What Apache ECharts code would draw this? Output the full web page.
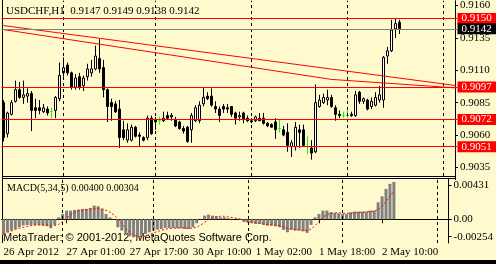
<!DOCTYPE html>
<html><head><meta charset="utf-8">
<script src="https://cdn.jsdelivr.net/npm/echarts@6/dist/echarts.min.js"></script>
<style>html,body{margin:0;padding:0;background:#FFFACD;}#c{width:496px;height:264px;}</style>
</head><body><div id="c"></div>
<script>
// ---- data (USDCHF H1, bars 26 Apr 2012 09:00 .. 2 May 2012 13:00) ----
const open = [0.9085,0.9061,0.9076,0.9086,0.9095,0.9089,0.9090,0.9092,0.9081,0.9081,
0.9078,0.9080,0.9078,0.9079,0.9088,0.9108,0.9114,0.9108,0.9097,0.9105,
0.9098,0.9105,0.9108,0.9111,0.9119,0.9112,0.9095,0.9085,0.9084,0.9080,
0.9064,0.9056,0.9056,0.9066,0.9060,0.9058,0.9058,0.9073,0.9070,0.9071,
0.9071,0.9075,0.9075,0.9072,0.9070,0.9065,0.9066,0.9064,0.9071,0.9071,
0.9084,0.9090,0.9090,0.9082,0.9080,0.9082,0.9081,0.9082,0.9077,0.9074,
0.9077,0.9073,0.9071,0.9071,0.9073,0.9073,0.9069,0.9068,0.9070,0.9065,
0.9064,0.9062,0.9051,0.9051,0.9064,0.9064,0.9051,0.9050,0.9047,0.9082,
0.9085,0.9087,0.9089,0.9081,0.9076,0.9075,0.9075,0.9076,0.9075,0.9093,
0.9086,0.9087,0.9082,0.9083,0.9087,0.9087,0.9121,0.9125,0.9142,0.9147];
const high = [0.9087,0.9078,0.9087,0.9102,0.9101,0.9102,0.9096,0.9094,0.9088,0.9087,
0.9084,0.9082,0.9081,0.9090,0.9116,0.9120,0.9116,0.9109,0.9107,0.9108,
0.9106,0.9115,0.9118,0.9129,0.9134,0.9118,0.9096,0.9088,0.9086,0.9087,
0.9071,0.9069,0.9068,0.9067,0.9062,0.9059,0.9075,0.9075,0.9074,0.9074,
0.9078,0.9078,0.9077,0.9074,0.9071,0.9067,0.9067,0.9077,0.9083,0.9086,
0.9097,0.9093,0.9096,0.9086,0.9082,0.9084,0.9084,0.9082,0.9078,0.9078,
0.9078,0.9075,0.9073,0.9075,0.9077,0.9077,0.9070,0.9069,0.9073,0.9072,
0.9067,0.9069,0.9056,0.9070,0.9068,0.9068,0.9059,0.9056,0.9099,0.9091,
0.9092,0.9095,0.9091,0.9083,0.9079,0.9078,0.9079,0.9078,0.9094,0.9094,
0.9089,0.9088,0.9089,0.9093,0.9098,0.9121,0.9128,0.9149,0.9150,0.9149];
const low = [0.9055,0.9058,0.9075,0.9085,0.9088,0.9084,0.9085,0.9063,0.9073,0.9076,
0.9077,0.9075,0.9073,0.9073,0.9086,0.9105,0.9106,0.9095,0.9095,0.9095,
0.9094,0.9102,0.9105,0.9110,0.9108,0.9089,0.9070,0.9071,0.9077,0.9050,
0.9056,0.9054,0.9055,0.9058,0.9051,0.9055,0.9056,0.9060,0.9064,0.9068,
0.9070,0.9072,0.9071,0.9066,0.9064,0.9061,0.9054,0.9054,0.9070,0.9069,
0.9082,0.9087,0.9082,0.9077,0.9070,0.9077,0.9077,0.9074,0.9068,0.9071,
0.9069,0.9070,0.9069,0.9070,0.9071,0.9068,0.9066,0.9066,0.9057,0.9062,
0.9059,0.9047,0.9043,0.9048,0.9050,0.9051,0.9045,0.9041,0.9046,0.9081,
0.9084,0.9083,0.9081,0.9071,0.9073,0.9073,0.9073,0.9074,0.9074,0.9084,
0.9084,0.9079,0.9080,0.9082,0.9085,0.9081,0.9115,0.9124,0.9135,0.9138];
const close = [0.9058,0.9077,0.9085,0.9095,0.9089,0.9091,0.9092,0.9079,0.9079,0.9079,
0.9081,0.9077,0.9078,0.9089,0.9106,0.9112,0.9108,0.9097,0.9104,0.9097,
0.9104,0.9111,0.9111,0.9121,0.9111,0.9095,0.9082,0.9082,0.9078,0.9058,
0.9058,0.9064,0.9066,0.9059,0.9059,0.9056,0.9073,0.9061,0.9072,0.9071,
0.9073,0.9073,0.9074,0.9067,0.9065,0.9063,0.9055,0.9075,0.9081,0.9083,
0.9089,0.9088,0.9083,0.9080,0.9075,0.9080,0.9080,0.9076,0.9073,0.9075,
0.9072,0.9071,0.9070,0.9074,0.9071,0.9069,0.9067,0.9066,0.9064,0.9065,
0.9060,0.9052,0.9054,0.9066,0.9062,0.9052,0.9051,0.9046,0.9085,0.9087,
0.9089,0.9089,0.9082,0.9076,0.9075,0.9075,0.9075,0.9075,0.9091,0.9086,
0.9088,0.9080,0.9086,0.9089,0.9091,0.9120,0.9125,0.9141,0.9146,0.9142];
const macdHist = [-0.00168,-0.00139,-0.00121,-0.00104,-0.00086,-0.00068,-0.00061,-0.00061,-0.00061,-0.00061,
-0.00068,-0.00075,-0.00096,-0.00061,0.00021,0.00057,0.00093,0.00093,0.00100,0.00104,
0.00111,0.00111,0.00121,0.00146,0.00139,0.00111,0.00057,0.00021,0.00004,-0.00086,
-0.00121,-0.00168,-0.00182,-0.00193,-0.00193,-0.00175,-0.00157,-0.00139,-0.00121,-0.00111,
-0.00104,-0.00093,-0.00093,-0.00093,-0.00096,-0.00096,-0.00104,-0.00104,-0.00086,-0.00043,
0.00004,0.00039,0.00050,0.00039,0.00032,0.00021,0.00021,0.00011,0.00004,0.00000,
-0.00007,-0.00030,-0.00039,-0.00043,-0.00050,-0.00050,-0.00061,-0.00068,-0.00068,-0.00075,
-0.00086,-0.00114,-0.00139,-0.00111,-0.00121,-0.00121,-0.00129,-0.00146,-0.00061,0.00021,
0.00057,0.00093,0.00093,0.00075,0.00068,0.00064,0.00057,0.00057,0.00075,0.00082,
0.00082,0.00082,0.00082,0.00093,0.00093,0.00182,0.00246,0.00325,0.00379,0.00400];
const macdSignal = [-0.00157,-0.00139,-0.00125,-0.00111,-0.00096,-0.00086,-0.00075,-0.00068,-0.00064,-0.00061,
-0.00061,-0.00061,-0.00068,-0.00068,-0.00054,-0.00025,0.00011,0.00046,0.00075,0.00089,
0.00096,0.00104,0.00107,0.00111,0.00114,0.00111,0.00096,0.00075,0.00046,0.00004,
-0.00043,-0.00096,-0.00139,-0.00168,-0.00182,-0.00186,-0.00179,-0.00164,-0.00146,-0.00132,
-0.00118,-0.00107,-0.00100,-0.00096,-0.00093,-0.00093,-0.00093,-0.00096,-0.00096,-0.00086,
-0.00061,-0.00032,-0.00004,0.00018,0.00029,0.00032,0.00032,0.00025,0.00018,0.00011,
0.00004,-0.00011,-0.00021,-0.00032,-0.00039,-0.00043,-0.00050,-0.00054,-0.00061,-0.00064,
-0.00068,-0.00082,-0.00096,-0.00104,-0.00111,-0.00114,-0.00118,-0.00121,-0.00104,-0.00068,
-0.00025,0.00021,0.00050,0.00064,0.00068,0.00068,0.00064,0.00064,0.00064,0.00068,
0.00071,0.00075,0.00079,0.00082,0.00086,0.00104,0.00139,0.00189,0.00246,0.00304];
const redLevels = [0.9150, 0.9097, 0.9072, 0.9051];
const bidLevel = 0.9142;
const trendA = [[0, 0.91445], [113, 0.90982]];
const trendB = [[0, 0.91414], [82, 0.91029], [113, 0.90964]];
const daySeparators = [15, 38, 62, 86, 110];
const timeTickIndex = [0, 16, 32, 48, 64, 80, 96];
const timeTickLabels = ['26 Apr 2012','27 Apr 01:00','27 Apr 17:00','30 Apr 10:00','1 May 02:00','1 May 18:00','2 May 10:00'];
const priceTicks = [0.9035, 0.9060, 0.9085, 0.9110, 0.9135, 0.9160];
const macdLabels = [-0.00254, 0, 0.00431];
const headerText = 'USDCHF,H1  0.9147 0.9149 0.9138 0.9142';
const macdText = 'MACD(5,34,5) 0.00400 0.00304';
const copyText = 'MetaTrader: \u00A9 2001-2012, MetaQuotes Software Corp.';
const slotCount = 114;

// ---- chart ----
const FAM = 'Liberation Sans Narrow';
const FONT = "11px 'Liberation Sans Narrow'";
const BG = '#FFFACD';
const slots = Array.from({length: slotCount}, (_, i) => String(i));
const candleData = open.map((o, i) => [o, close[i], low[i], high[i]]);
const isTick = (i) => timeTickIndex.indexOf(i) >= 0;

const sepLines = daySeparators.map(i => ({xAxis: i, lineStyle: {color: '#000', type: [3, 3], width: 1}, label: {show: false}}));
const tag = (v, bg, lc) => ({
  yAxis: v,
  lineStyle: {color: lc, width: 1, type: 'solid'},
  label: {show: true, position: 'end', distance: 0, formatter: v.toFixed(4),
    color: '#fff', backgroundColor: bg, padding: [1, 4, 0, 4], width: 31, fontSize: 11, lineHeight: 10, fontFamily: FAM}
});
const segs = (pts) => pts.slice(1).map((p, k) => [{coord: pts[k], lineStyle: {color: '#ff0000', width: 1, type: 'solid'}, label: {show: false}}, {coord: p}]);
const base = {symbol: ['none', 'none'], silent: true, animation: false, precision: 6};

const chart = echarts.init(document.getElementById('c'), null, {renderer: 'canvas'});
chart.setOption({
  animation: false,
  backgroundColor: BG,
  textStyle: {fontFamily: FAM, fontSize: 11},
  grid: [
    {left: 1.5, top: 0, width: 456, height: 176},
    {left: 1.5, top: 179, width: 456, height: 64}
  ],
  xAxis: [
    {type: 'category', gridIndex: 0, data: slots, show: false},
    {type: 'category', gridIndex: 1, data: slots,
      axisLine: {show: true, lineStyle: {color: '#000', width: 1}},
      axisTick: {show: true, alignWithLabel: true, interval: (i) => isTick(i), length: 4, lineStyle: {color: '#000'}},
      axisLabel: {interval: (i) => isTick(i), formatter: (v, i) => timeTickLabels[timeTickIndex.indexOf(i)] || '',
        align: 'left', margin: 4, color: '#000', fontSize: 11, fontFamily: FAM},
      splitLine: {show: false}}
  ],
  yAxis: [
    {type: 'value', gridIndex: 0, position: 'right', offset: -2.5, min: 0.902832, max: 0.91637,
      axisLine: {show: true, lineStyle: {color: '#000'}},
      axisTick: {show: true, customValues: priceTicks, length: 3, lineStyle: {color: '#000'}},
      axisLabel: {customValues: priceTicks, formatter: (v) => v.toFixed(4), color: '#000', fontSize: 11, fontFamily: FAM, margin: 5},
      splitLine: {show: false}},
    {type: 'value', gridIndex: 1, position: 'right', offset: -2.5, min: -0.00254, max: 0.00431,
      axisLine: {show: true, lineStyle: {color: '#000'}},
      axisTick: {show: true, customValues: [-0.00187, 0, 0.00359], length: 3, lineStyle: {color: '#000'}},
      axisLabel: {customValues: macdLabels, color: '#000', fontSize: 11, fontFamily: FAM, margin: 5,
        formatter: (v) => Math.abs(v) < 1e-9 ? '0.00' : (v > 0 ? '{t|' + v.toFixed(5) + '}' : '{b|' + v.toFixed(5) + '}'),
        rich: {t: {padding: [12, 0, 0, 0], fontSize: 11, fontFamily: FAM, color: '#000'}, b: {padding: [0, 0, 12, 0], fontSize: 11, fontFamily: FAM, color: '#000'}}},
      splitLine: {show: false}}
  ],
  series: [
    {type: 'line', xAxisIndex: 0, yAxisIndex: 0, data: close, symbol: 'none', silent: true,
      lineStyle: {opacity: 0}, z: 1,
      markLine: Object.assign({}, base, {data: [].concat(sepLines, segs(trendA), segs(trendB))})},
    {type: 'candlestick', xAxisIndex: 0, yAxisIndex: 0, data: candleData, barWidth: 3, z: 3,
      itemStyle: {color: '#ffffff', color0: '#000000', borderColor: '#000000', borderColor0: '#000000', borderColorDoji: '#00ff00', borderWidth: 1}},
    {type: 'line', xAxisIndex: 0, yAxisIndex: 0, data: close, symbol: 'none', silent: true,
      lineStyle: {opacity: 0}, z: 4,
      markLine: Object.assign({}, base, {data: redLevels.map(v => tag(v, '#ff0000', '#ff0000')).concat([tag(bidLevel, '#000000', '#808080')])})},
    {type: 'bar', xAxisIndex: 1, yAxisIndex: 1, data: macdHist, barWidth: 3, itemStyle: {color: '#808080'},
      markLine: Object.assign({}, base, {data: sepLines})},
    {type: 'line', xAxisIndex: 1, yAxisIndex: 1, data: macdSignal, showSymbol: false, symbol: 'none',
      lineStyle: {color: '#ff0000', width: 1, type: [2, 2]}}
  ],
  graphic: [
    {type: 'line', shape: {x1: 2.5, y1: 0, x2: 2.5, y2: 243}, style: {stroke: '#000', lineWidth: 1}, silent: true},
    {type: 'line', shape: {x1: 2, y1: 176.5, x2: 455, y2: 176.5}, style: {stroke: '#000', lineWidth: 1}, silent: true},
    {type: 'line', shape: {x1: 2, y1: 178.5, x2: 455, y2: 178.5}, style: {stroke: '#000', lineWidth: 1}, silent: true},
    {type: 'line', shape: {x1: 455.5, y1: 175, x2: 455.5, y2: 180}, style: {stroke: '#000', lineWidth: 1}, silent: true},
    {type: 'rect', shape: {x: 0, y: 260, width: 496, height: 4}, style: {fill: '#000'}, silent: true},
    {type: 'text', left: 6, top: 6, style: {text: headerText, font: FONT, fill: '#000'}, silent: true},
    {type: 'text', left: 7, top: 183, style: {text: macdText, font: "10px 'Liberation Sans Narrow'", fill: '#000'}, silent: true},
    {type: 'text', left: 3, top: 232, style: {text: copyText, font: "11px 'Liberation Sans'", fill: '#000'}, silent: true}
  ]
});
</script>
</body></html>
